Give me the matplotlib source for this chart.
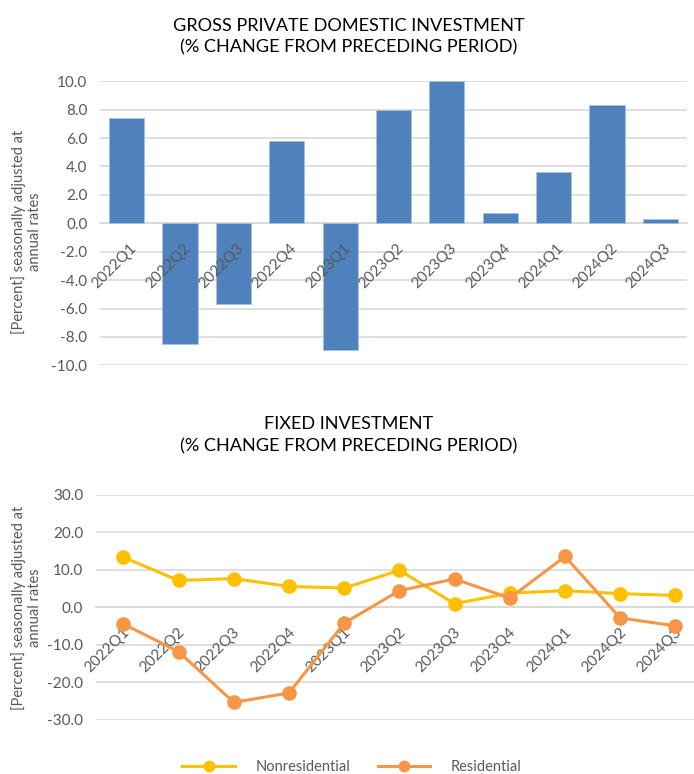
import matplotlib
matplotlib.use("Agg")
import matplotlib.pyplot as plt
from matplotlib.lines import Line2D

plt.rcParams['font.family'] = ['Lato', 'DejaVu Sans']

quarters = ["2022Q1", "2022Q2", "2022Q3", "2022Q4", "2023Q1", "2023Q2",
            "2023Q3", "2023Q4", "2024Q1", "2024Q2", "2024Q3"]
gross_inv = [7.4, -8.5, -5.7, 5.8, -8.9, 8.0, 10.0, 0.7, 3.6, 8.3, 0.3]
nonres = [13.4, 7.2, 7.7, 5.6, 5.2, 9.9, 1.0, 3.8, 4.5, 3.7, 3.2]
res = [-4.4, -11.8, -25.3, -22.8, -4.2, 4.5, 7.6, 2.5, 13.6, -2.8, -4.9]

grey = "#595959"
gridc = "#D9D9D9"
ylab = "[Percent] seasonally adjusted at\nannual rates"

fig = plt.figure(figsize=(6.94, 7.74), dpi=100)


def style_axis(ax, ticks, dx, dy, lab_z):
    ax.set_yticks(ticks)
    ax.set_yticklabels(["%.1f" % t for t in ticks], color=grey, fontsize=11)
    ax.yaxis.grid(True, color=gridc, lw=1.2)
    ax.set_axisbelow(True)
    for s in ["top", "right", "left"]:
        ax.spines[s].set_visible(False)
    ax.spines["bottom"].set_position(("data", 0))
    ax.spines["bottom"].set_color(gridc)
    ax.spines["bottom"].set_linewidth(1.2)
    ax.tick_params(axis="both", length=0)
    ax.tick_params(axis="y", pad=9)
    ax.set_xticks(range(len(quarters)))
    ax.set_xticklabels([])
    # category labels sit on the zero line, drawn by hand so they can go over the bars
    for i, q in enumerate(quarters):
        ax.annotate(q, xy=(i, 0), xytext=(dx, dy), textcoords="offset pixels",
                    rotation=45, ha="right", va="top", rotation_mode="anchor",
                    color=grey, fontsize=11, zorder=lab_z)
    ax.set_xlim(-0.5, len(quarters) - 0.5)


# top: gross private domestic investment
ax1 = fig.add_axes([0.144, 0.528, 0.846, 0.367])
ax1.bar(range(len(quarters)), gross_inv, width=0.66, color="#4F81BD",
        edgecolor="#A9C1E0", linewidth=0.6, zorder=3)
ax1.set_ylim(-10, 10)
style_axis(ax1, [-10, -8, -6, -4, -2, 0, 2, 4, 6, 8, 10], 3, -18, 5)
ax1.set_ylabel(ylab, color=grey, fontsize=10.5)
ax1.yaxis.set_label_coords(-0.099, 0.47)
fig.text(0.502, 0.977, "GROSS PRIVATE DOMESTIC INVESTMENT\n(% CHANGE FROM PRECEDING PERIOD)",
         ha="center", va="top", fontsize=13.1, color="black", linespacing=1.45)

# bottom: fixed investment
ax2 = fig.add_axes([0.138, 0.0698, 0.875, 0.2907])
ax2.plot(range(len(quarters)), nonres, color="#FFC000", lw=2.2, marker="o",
         markersize=9.5, zorder=3)
ax2.plot(range(len(quarters)), res, color="#F79646", lw=2.2, marker="o",
         markersize=9.5, zorder=3)
ax2.set_ylim(-30, 30)
style_axis(ax2, [-30, -20, -10, 0, 10, 20, 30], -1, -18, 2)
ax2.set_ylabel(ylab, color=grey, fontsize=10.5)
ax2.yaxis.set_label_coords(-0.089, 0.5)
fig.text(0.502, 0.462, "FIXED INVESTMENT\n(% CHANGE FROM PRECEDING PERIOD)",
         ha="center", va="top", fontsize=13.1, color="black", linespacing=1.45)

handles = [Line2D([], [], color="#FFC000", lw=2.2, marker="o", markersize=7.5),
           Line2D([], [], color="#F79646", lw=2.2, marker="o", markersize=7.5)]
fig.legend(handles, ["Nonresidential", "Residential"], loc="center",
           bbox_to_anchor=(0.507, 0.009), ncol=2, frameon=False, fontsize=10.5,
           handlelength=3.6, handletextpad=1.4, columnspacing=1.9,
           labelcolor=grey)

fig.savefig("out.png", dpi=100)
